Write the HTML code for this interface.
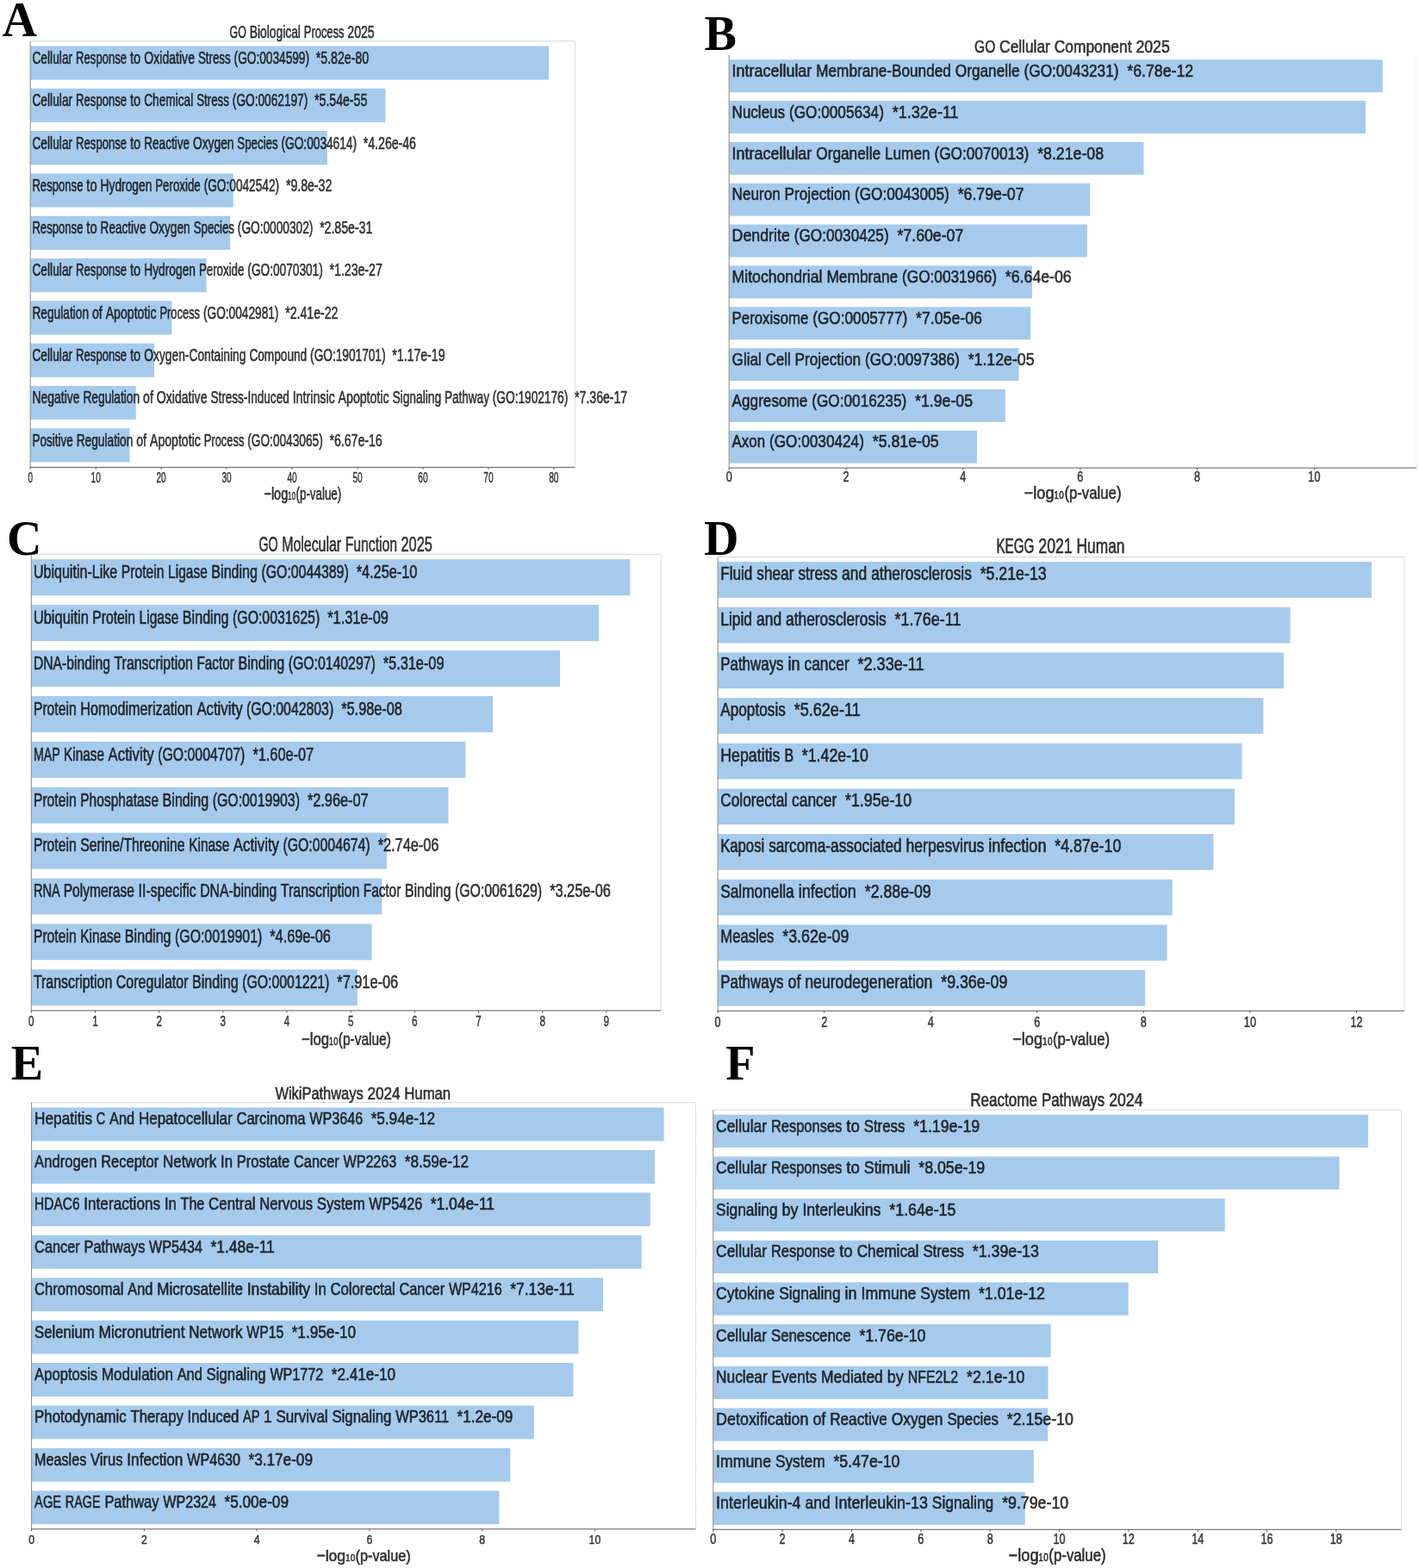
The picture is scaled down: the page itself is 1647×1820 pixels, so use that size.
<!DOCTYPE html>
<html lang="en">
<head>
<meta charset="utf-8">
<title>Enrichment analysis bar charts</title>
<style>
html,body{margin:0;padding:0;background:#fff;}
body{width:1647px;height:1820px;overflow:hidden;}
svg{display:block;}
text{white-space:pre;}
.t{font-family:"Liberation Sans",sans-serif;fill:#000;stroke:#000;stroke-width:0.65px;stroke-linejoin:round;opacity:0.82;}
.k{font-family:"Liberation Sans",sans-serif;fill:#000;stroke:#000;stroke-width:0.5px;stroke-linejoin:round;opacity:0.8;}
.L{font-family:"Liberation Serif",serif;font-weight:bold;font-size:56px;fill:#000;}
.bar{fill:#a6caec;}
.sp{fill:none;stroke-width:1;}
</style>
</head>
<body>
<svg width="1647" height="1820" viewBox="0 0 1647 1820">
<rect width="1647" height="1820" fill="#ffffff"/>
<g id="panel-a">
<rect class="bar" x="35.2" y="53.4" width="601.87" height="39.2"/>
<rect class="bar" x="35.2" y="102.71" width="412.13" height="39.2"/>
<rect class="bar" x="35.2" y="152.02" width="344.64" height="39.2"/>
<rect class="bar" x="35.2" y="201.33" width="235.54" height="39.2"/>
<rect class="bar" x="35.2" y="250.64" width="232.02" height="39.2"/>
<rect class="bar" x="35.2" y="299.95" width="204.41" height="39.2"/>
<rect class="bar" x="35.2" y="349.26" width="164.21" height="39.2"/>
<rect class="bar" x="35.2" y="398.57" width="143.81" height="39.2"/>
<rect class="bar" x="35.2" y="447.88" width="122.55" height="39.2"/>
<rect class="bar" x="35.2" y="497.19" width="115.28" height="39.2"/>
<path class="sp" stroke="#d4d4d4" d="M35.2 47.8H667.4"/>
<path class="sp" stroke="#dedede" d="M667.4 47.8V542.4"/>
<path class="sp" stroke="#8a8a8a" d="M35.2 47.8V542.4"/>
<path class="sp" stroke="#5a5a5a" stroke-width="1.2" d="M34.7 542.4H667.4"/>
<path class="sp" stroke="#5a5a5a" d="M35.2 542.4v2.6M111.16 542.4v2.6M187.12 542.4v2.6M263.08 542.4v2.6M339.04 542.4v2.6M415 542.4v2.6M490.96 542.4v2.6M566.92 542.4v2.6M642.88 542.4v2.6"/>
<text class="k" font-size="15.86"><tspan x="32.4" y="559.6" textLength="5.59" lengthAdjust="spacingAndGlyphs">0</tspan></text>
<text class="k" font-size="15.86"><tspan x="105.57" y="559.6" textLength="11.18" lengthAdjust="spacingAndGlyphs">10</tspan></text>
<text class="k" font-size="15.86"><tspan x="181.53" y="559.6" textLength="11.18" lengthAdjust="spacingAndGlyphs">20</tspan></text>
<text class="k" font-size="15.86"><tspan x="257.49" y="559.6" textLength="11.18" lengthAdjust="spacingAndGlyphs">30</tspan></text>
<text class="k" font-size="15.86"><tspan x="333.45" y="559.6" textLength="11.18" lengthAdjust="spacingAndGlyphs">40</tspan></text>
<text class="k" font-size="15.86"><tspan x="409.41" y="559.6" textLength="11.18" lengthAdjust="spacingAndGlyphs">50</tspan></text>
<text class="k" font-size="15.86"><tspan x="485.37" y="559.6" textLength="11.18" lengthAdjust="spacingAndGlyphs">60</tspan></text>
<text class="k" font-size="15.86"><tspan x="561.33" y="559.6" textLength="11.18" lengthAdjust="spacingAndGlyphs">70</tspan></text>
<text class="k" font-size="15.86"><tspan x="637.29" y="559.6" textLength="11.18" lengthAdjust="spacingAndGlyphs">80</tspan></text>
<text class="t" font-size="20.04"><tspan x="306.44" y="579.5" textLength="27.73" lengthAdjust="spacingAndGlyphs">−log</tspan><tspan x="334.16" y="577.67" font-size="20.84" textLength="9.41" lengthAdjust="spacingAndGlyphs">₁₀</tspan><tspan x="343.57" y="579.5" textLength="52.59" lengthAdjust="spacingAndGlyphs">(p-value)</tspan></text>
<text class="t" font-size="20.87"><tspan x="266.58" y="44" textLength="19.2" lengthAdjust="spacingAndGlyphs">GO</tspan> <tspan x="289.69" y="44" textLength="59.22" lengthAdjust="spacingAndGlyphs">Biological</tspan> <tspan x="352.81" y="44" textLength="46.62" lengthAdjust="spacingAndGlyphs">Process</tspan> <tspan x="403.34" y="44" textLength="31.28" lengthAdjust="spacingAndGlyphs">2025</tspan></text>
<text class="t" font-size="20.87"><tspan x="37.4" y="73.9" textLength="46.76" lengthAdjust="spacingAndGlyphs">Cellular</tspan> <tspan x="88.07" y="73.9" textLength="59.03" lengthAdjust="spacingAndGlyphs">Response</tspan> <tspan x="151" y="73.9" textLength="12.34" lengthAdjust="spacingAndGlyphs">to</tspan> <tspan x="167.24" y="73.9" textLength="58.76" lengthAdjust="spacingAndGlyphs">Oxidative</tspan> <tspan x="229.91" y="73.9" textLength="37.77" lengthAdjust="spacingAndGlyphs">Stress</tspan> <tspan x="271.59" y="73.9" textLength="87.45" lengthAdjust="spacingAndGlyphs">(GO:0034599)</tspan>  <tspan x="366.85" y="73.9" textLength="61.14" lengthAdjust="spacingAndGlyphs">*5.82e-80</tspan></text>
<text class="t" font-size="20.87"><tspan x="37.4" y="123.21" textLength="46.76" lengthAdjust="spacingAndGlyphs">Cellular</tspan> <tspan x="88.07" y="123.21" textLength="59.03" lengthAdjust="spacingAndGlyphs">Response</tspan> <tspan x="151" y="123.21" textLength="12.34" lengthAdjust="spacingAndGlyphs">to</tspan> <tspan x="167.24" y="123.21" textLength="57.02" lengthAdjust="spacingAndGlyphs">Chemical</tspan> <tspan x="228.17" y="123.21" textLength="37.77" lengthAdjust="spacingAndGlyphs">Stress</tspan> <tspan x="269.85" y="123.21" textLength="87.45" lengthAdjust="spacingAndGlyphs">(GO:0062197)</tspan>  <tspan x="365.11" y="123.21" textLength="61.14" lengthAdjust="spacingAndGlyphs">*5.54e-55</tspan></text>
<text class="t" font-size="20.87"><tspan x="37.4" y="172.52" textLength="46.76" lengthAdjust="spacingAndGlyphs">Cellular</tspan> <tspan x="88.07" y="172.52" textLength="59.03" lengthAdjust="spacingAndGlyphs">Response</tspan> <tspan x="151" y="172.52" textLength="12.34" lengthAdjust="spacingAndGlyphs">to</tspan> <tspan x="167.24" y="172.52" textLength="52.9" lengthAdjust="spacingAndGlyphs">Reactive</tspan> <tspan x="224.06" y="172.52" textLength="47.37" lengthAdjust="spacingAndGlyphs">Oxygen</tspan> <tspan x="275.33" y="172.52" textLength="47.3" lengthAdjust="spacingAndGlyphs">Species</tspan> <tspan x="326.54" y="172.52" textLength="87.45" lengthAdjust="spacingAndGlyphs">(GO:0034614)</tspan>  <tspan x="421.8" y="172.52" textLength="61.14" lengthAdjust="spacingAndGlyphs">*4.26e-46</tspan></text>
<text class="t" font-size="20.87"><tspan x="37.4" y="221.83" textLength="59.03" lengthAdjust="spacingAndGlyphs">Response</tspan> <tspan x="100.33" y="221.83" textLength="12.34" lengthAdjust="spacingAndGlyphs">to</tspan> <tspan x="116.58" y="221.83" textLength="59.77" lengthAdjust="spacingAndGlyphs">Hydrogen</tspan> <tspan x="180.25" y="221.83" textLength="52.51" lengthAdjust="spacingAndGlyphs">Peroxide</tspan> <tspan x="236.67" y="221.83" textLength="87.45" lengthAdjust="spacingAndGlyphs">(GO:0042542)</tspan>  <tspan x="331.93" y="221.83" textLength="53.32" lengthAdjust="spacingAndGlyphs">*9.8e-32</tspan></text>
<text class="t" font-size="20.87"><tspan x="37.4" y="271.14" textLength="59.03" lengthAdjust="spacingAndGlyphs">Response</tspan> <tspan x="100.33" y="271.14" textLength="12.34" lengthAdjust="spacingAndGlyphs">to</tspan> <tspan x="116.58" y="271.14" textLength="52.9" lengthAdjust="spacingAndGlyphs">Reactive</tspan> <tspan x="173.39" y="271.14" textLength="47.37" lengthAdjust="spacingAndGlyphs">Oxygen</tspan> <tspan x="224.67" y="271.14" textLength="47.3" lengthAdjust="spacingAndGlyphs">Species</tspan> <tspan x="275.87" y="271.14" textLength="87.45" lengthAdjust="spacingAndGlyphs">(GO:0000302)</tspan>  <tspan x="371.13" y="271.14" textLength="61.14" lengthAdjust="spacingAndGlyphs">*2.85e-31</tspan></text>
<text class="t" font-size="20.87"><tspan x="37.4" y="320.45" textLength="46.76" lengthAdjust="spacingAndGlyphs">Cellular</tspan> <tspan x="88.07" y="320.45" textLength="59.03" lengthAdjust="spacingAndGlyphs">Response</tspan> <tspan x="151" y="320.45" textLength="12.34" lengthAdjust="spacingAndGlyphs">to</tspan> <tspan x="167.24" y="320.45" textLength="59.77" lengthAdjust="spacingAndGlyphs">Hydrogen</tspan> <tspan x="230.92" y="320.45" textLength="52.51" lengthAdjust="spacingAndGlyphs">Peroxide</tspan> <tspan x="287.34" y="320.45" textLength="87.45" lengthAdjust="spacingAndGlyphs">(GO:0070301)</tspan>  <tspan x="382.6" y="320.45" textLength="61.14" lengthAdjust="spacingAndGlyphs">*1.23e-27</tspan></text>
<text class="t" font-size="20.87"><tspan x="37.4" y="369.76" textLength="65.63" lengthAdjust="spacingAndGlyphs">Regulation</tspan> <tspan x="106.93" y="369.76" textLength="11.85" lengthAdjust="spacingAndGlyphs">of</tspan> <tspan x="122.69" y="369.76" textLength="58.86" lengthAdjust="spacingAndGlyphs">Apoptotic</tspan> <tspan x="185.45" y="369.76" textLength="46.62" lengthAdjust="spacingAndGlyphs">Process</tspan> <tspan x="235.98" y="369.76" textLength="87.45" lengthAdjust="spacingAndGlyphs">(GO:0042981)</tspan>  <tspan x="331.24" y="369.76" textLength="61.14" lengthAdjust="spacingAndGlyphs">*2.41e-22</tspan></text>
<text class="t" font-size="20.87"><tspan x="37.4" y="419.07" textLength="46.76" lengthAdjust="spacingAndGlyphs">Cellular</tspan> <tspan x="88.07" y="419.07" textLength="59.03" lengthAdjust="spacingAndGlyphs">Response</tspan> <tspan x="151" y="419.07" textLength="12.34" lengthAdjust="spacingAndGlyphs">to</tspan> <tspan x="167.24" y="419.07" textLength="118.26" lengthAdjust="spacingAndGlyphs">Oxygen-Containing</tspan> <tspan x="289.41" y="419.07" textLength="66.77" lengthAdjust="spacingAndGlyphs">Compound</tspan> <tspan x="360.09" y="419.07" textLength="87.45" lengthAdjust="spacingAndGlyphs">(GO:1901701)</tspan>  <tspan x="455.35" y="419.07" textLength="61.14" lengthAdjust="spacingAndGlyphs">*1.17e-19</tspan></text>
<text class="t" font-size="20.87"><tspan x="37.4" y="468.38" textLength="55.16" lengthAdjust="spacingAndGlyphs">Negative</tspan> <tspan x="96.46" y="468.38" textLength="65.63" lengthAdjust="spacingAndGlyphs">Regulation</tspan> <tspan x="166" y="468.38" textLength="11.85" lengthAdjust="spacingAndGlyphs">of</tspan> <tspan x="181.75" y="468.38" textLength="58.76" lengthAdjust="spacingAndGlyphs">Oxidative</tspan> <tspan x="244.42" y="468.38" textLength="91.33" lengthAdjust="spacingAndGlyphs">Stress-Induced</tspan> <tspan x="339.65" y="468.38" textLength="49.06" lengthAdjust="spacingAndGlyphs">Intrinsic</tspan> <tspan x="392.62" y="468.38" textLength="58.86" lengthAdjust="spacingAndGlyphs">Apoptotic</tspan> <tspan x="455.39" y="468.38" textLength="56.76" lengthAdjust="spacingAndGlyphs">Signaling</tspan> <tspan x="516.05" y="468.38" textLength="51.85" lengthAdjust="spacingAndGlyphs">Pathway</tspan> <tspan x="571.81" y="468.38" textLength="87.45" lengthAdjust="spacingAndGlyphs">(GO:1902176)</tspan>  <tspan x="667.07" y="468.38" textLength="61.14" lengthAdjust="spacingAndGlyphs">*7.36e-17</tspan></text>
<text class="t" font-size="20.87"><tspan x="37.4" y="517.69" textLength="47.38" lengthAdjust="spacingAndGlyphs">Positive</tspan> <tspan x="88.68" y="517.69" textLength="65.63" lengthAdjust="spacingAndGlyphs">Regulation</tspan> <tspan x="158.22" y="517.69" textLength="11.85" lengthAdjust="spacingAndGlyphs">of</tspan> <tspan x="173.97" y="517.69" textLength="58.86" lengthAdjust="spacingAndGlyphs">Apoptotic</tspan> <tspan x="236.73" y="517.69" textLength="46.62" lengthAdjust="spacingAndGlyphs">Process</tspan> <tspan x="287.26" y="517.69" textLength="87.45" lengthAdjust="spacingAndGlyphs">(GO:0043065)</tspan>  <tspan x="382.52" y="517.69" textLength="61.14" lengthAdjust="spacingAndGlyphs">*6.67e-16</tspan></text>
<text class="L" x="2.4" y="41.9">A</text>
</g>
<g id="panel-b">
<rect class="bar" x="846.2" y="69.2" width="758.58" height="37.9"/>
<rect class="bar" x="846.2" y="117.04" width="738.93" height="37.9"/>
<rect class="bar" x="846.2" y="164.88" width="481.26" height="37.9"/>
<rect class="bar" x="846.2" y="212.72" width="418.94" height="37.9"/>
<rect class="bar" x="846.2" y="260.56" width="415.62" height="37.9"/>
<rect class="bar" x="846.2" y="308.4" width="351.68" height="37.9"/>
<rect class="bar" x="846.2" y="356.24" width="349.91" height="37.9"/>
<rect class="bar" x="846.2" y="404.08" width="336.26" height="37.9"/>
<rect class="bar" x="846.2" y="451.92" width="320.67" height="37.9"/>
<rect class="bar" x="846.2" y="499.76" width="287.7" height="37.9"/>
<path class="sp" stroke="#ffffff" d="M846.2 64.1H1644"/>
<path class="sp" stroke="#ececec" d="M1644 64.1V543.1"/>
<path class="sp" stroke="#8a8a8a" d="M846.2 64.1V543.1"/>
<path class="sp" stroke="#5a5a5a" stroke-width="1.2" d="M845.7 543.1H1644"/>
<path class="sp" stroke="#5a5a5a" d="M846.2 543.1v2.6M982.04 543.1v2.6M1117.88 543.1v2.6M1253.72 543.1v2.6M1389.56 543.1v2.6M1525.4 543.1v2.6"/>
<text class="k" font-size="16.03"><tspan x="842.69" y="559.1" textLength="7.03" lengthAdjust="spacingAndGlyphs">0</tspan></text>
<text class="k" font-size="16.03"><tspan x="978.53" y="559.1" textLength="7.03" lengthAdjust="spacingAndGlyphs">2</tspan></text>
<text class="k" font-size="16.03"><tspan x="1114.37" y="559.1" textLength="7.03" lengthAdjust="spacingAndGlyphs">4</tspan></text>
<text class="k" font-size="16.03"><tspan x="1250.21" y="559.1" textLength="7.03" lengthAdjust="spacingAndGlyphs">6</tspan></text>
<text class="k" font-size="16.03"><tspan x="1386.05" y="559.1" textLength="7.03" lengthAdjust="spacingAndGlyphs">8</tspan></text>
<text class="k" font-size="16.03"><tspan x="1518.37" y="559.1" textLength="14.06" lengthAdjust="spacingAndGlyphs">10</tspan></text>
<text class="t" font-size="20.24"><tspan x="1188.7" y="579" textLength="34.86" lengthAdjust="spacingAndGlyphs">−log</tspan><tspan x="1223.56" y="577.15" font-size="21.05" textLength="11.83" lengthAdjust="spacingAndGlyphs">₁₀</tspan><tspan x="1235.39" y="579" textLength="66.11" lengthAdjust="spacingAndGlyphs">(p-value)</tspan></text>
<text class="t" font-size="21.09"><tspan x="1131.07" y="60.7" textLength="24.13" lengthAdjust="spacingAndGlyphs">GO</tspan> <tspan x="1160.11" y="60.7" textLength="58.78" lengthAdjust="spacingAndGlyphs">Cellular</tspan> <tspan x="1223.8" y="60.7" textLength="89.7" lengthAdjust="spacingAndGlyphs">Component</tspan> <tspan x="1318.41" y="60.7" textLength="39.32" lengthAdjust="spacingAndGlyphs">2025</tspan></text>
<text class="t" font-size="21.09"><tspan x="849.6" y="88.9" textLength="92.72" lengthAdjust="spacingAndGlyphs">Intracellular</tspan> <tspan x="947.23" y="88.9" textLength="156.59" lengthAdjust="spacingAndGlyphs">Membrane-Bounded</tspan> <tspan x="1108.73" y="88.9" textLength="74.9" lengthAdjust="spacingAndGlyphs">Organelle</tspan> <tspan x="1188.54" y="88.9" textLength="109.93" lengthAdjust="spacingAndGlyphs">(GO:0043231)</tspan>  <tspan x="1308.3" y="88.9" textLength="76.87" lengthAdjust="spacingAndGlyphs">*6.78e-12</tspan></text>
<text class="t" font-size="21.09"><tspan x="849.6" y="136.74" textLength="61.48" lengthAdjust="spacingAndGlyphs">Nucleus</tspan> <tspan x="915.99" y="136.74" textLength="109.93" lengthAdjust="spacingAndGlyphs">(GO:0005634)</tspan>  <tspan x="1035.75" y="136.74" textLength="76.87" lengthAdjust="spacingAndGlyphs">*1.32e-11</tspan></text>
<text class="t" font-size="21.09"><tspan x="849.6" y="184.58" textLength="92.72" lengthAdjust="spacingAndGlyphs">Intracellular</tspan> <tspan x="947.23" y="184.58" textLength="74.9" lengthAdjust="spacingAndGlyphs">Organelle</tspan> <tspan x="1027.04" y="184.58" textLength="52.48" lengthAdjust="spacingAndGlyphs">Lumen</tspan> <tspan x="1084.43" y="184.58" textLength="109.93" lengthAdjust="spacingAndGlyphs">(GO:0070013)</tspan>  <tspan x="1204.18" y="184.58" textLength="76.87" lengthAdjust="spacingAndGlyphs">*8.21e-08</tspan></text>
<text class="t" font-size="21.09"><tspan x="849.6" y="232.42" textLength="56.11" lengthAdjust="spacingAndGlyphs">Neuron</tspan> <tspan x="910.62" y="232.42" textLength="76.4" lengthAdjust="spacingAndGlyphs">Projection</tspan> <tspan x="991.93" y="232.42" textLength="109.93" lengthAdjust="spacingAndGlyphs">(GO:0043005)</tspan>  <tspan x="1111.69" y="232.42" textLength="76.87" lengthAdjust="spacingAndGlyphs">*6.79e-07</tspan></text>
<text class="t" font-size="21.09"><tspan x="849.6" y="280.26" textLength="67.21" lengthAdjust="spacingAndGlyphs">Dendrite</tspan> <tspan x="921.72" y="280.26" textLength="109.93" lengthAdjust="spacingAndGlyphs">(GO:0030425)</tspan>  <tspan x="1041.47" y="280.26" textLength="76.87" lengthAdjust="spacingAndGlyphs">*7.60e-07</tspan></text>
<text class="t" font-size="21.09"><tspan x="849.6" y="328.1" textLength="104.88" lengthAdjust="spacingAndGlyphs">Mitochondrial</tspan> <tspan x="959.39" y="328.1" textLength="82.81" lengthAdjust="spacingAndGlyphs">Membrane</tspan> <tspan x="1047.11" y="328.1" textLength="109.93" lengthAdjust="spacingAndGlyphs">(GO:0031966)</tspan>  <tspan x="1166.86" y="328.1" textLength="76.87" lengthAdjust="spacingAndGlyphs">*6.64e-06</tspan></text>
<text class="t" font-size="21.09"><tspan x="849.6" y="375.94" textLength="88.75" lengthAdjust="spacingAndGlyphs">Peroxisome</tspan> <tspan x="943.27" y="375.94" textLength="109.93" lengthAdjust="spacingAndGlyphs">(GO:0005777)</tspan>  <tspan x="1063.02" y="375.94" textLength="76.87" lengthAdjust="spacingAndGlyphs">*7.05e-06</tspan></text>
<text class="t" font-size="21.09"><tspan x="849.6" y="423.78" textLength="34.32" lengthAdjust="spacingAndGlyphs">Glial</tspan> <tspan x="888.83" y="423.78" textLength="28.88" lengthAdjust="spacingAndGlyphs">Cell</tspan> <tspan x="922.62" y="423.78" textLength="76.4" lengthAdjust="spacingAndGlyphs">Projection</tspan> <tspan x="1003.93" y="423.78" textLength="109.93" lengthAdjust="spacingAndGlyphs">(GO:0097386)</tspan>  <tspan x="1123.68" y="423.78" textLength="76.87" lengthAdjust="spacingAndGlyphs">*1.12e-05</tspan></text>
<text class="t" font-size="21.09"><tspan x="849.6" y="471.62" textLength="87.76" lengthAdjust="spacingAndGlyphs">Aggresome</tspan> <tspan x="942.27" y="471.62" textLength="109.93" lengthAdjust="spacingAndGlyphs">(GO:0016235)</tspan>  <tspan x="1062.02" y="471.62" textLength="67.04" lengthAdjust="spacingAndGlyphs">*1.9e-05</tspan></text>
<text class="t" font-size="21.09"><tspan x="849.6" y="519.46" textLength="38.48" lengthAdjust="spacingAndGlyphs">Axon</tspan> <tspan x="892.99" y="519.46" textLength="109.93" lengthAdjust="spacingAndGlyphs">(GO:0030424)</tspan>  <tspan x="1012.75" y="519.46" textLength="76.87" lengthAdjust="spacingAndGlyphs">*5.81e-05</tspan></text>
<text class="L" x="817.5" y="57.6">B</text>
</g>
<g id="panel-c">
<rect class="bar" x="36.3" y="649.2" width="695.09" height="42"/>
<rect class="bar" x="36.3" y="702.1" width="658.83" height="42"/>
<rect class="bar" x="36.3" y="755" width="613.75" height="42"/>
<rect class="bar" x="36.3" y="807.9" width="535.75" height="42"/>
<rect class="bar" x="36.3" y="860.8" width="504.05" height="42"/>
<rect class="bar" x="36.3" y="913.7" width="484.23" height="42"/>
<rect class="bar" x="36.3" y="966.6" width="412.55" height="42"/>
<rect class="bar" x="36.3" y="1019.5" width="407.05" height="42"/>
<rect class="bar" x="36.3" y="1072.4" width="395.24" height="42"/>
<rect class="bar" x="36.3" y="1125.3" width="378.4" height="42"/>
<path class="sp" stroke="#d4d4d4" d="M36.3 643.3H767.3"/>
<path class="sp" stroke="#dedede" d="M767.3 643.3V1173"/>
<path class="sp" stroke="#8a8a8a" d="M36.3 643.3V1173"/>
<path class="sp" stroke="#5a5a5a" stroke-width="1.2" d="M35.8 1173H767.3"/>
<path class="sp" stroke="#5a5a5a" d="M36.3 1173v2.6M110.47 1173v2.6M184.64 1173v2.6M258.81 1173v2.6M332.98 1173v2.6M407.15 1173v2.6M481.32 1173v2.6M555.49 1173v2.6M629.66 1173v2.6M703.83 1173v2.6"/>
<text class="k" font-size="16.43"><tspan x="33.07" y="1191.2" textLength="6.46" lengthAdjust="spacingAndGlyphs">0</tspan></text>
<text class="k" font-size="16.43"><tspan x="107.24" y="1191.2" textLength="6.46" lengthAdjust="spacingAndGlyphs">1</tspan></text>
<text class="k" font-size="16.43"><tspan x="181.41" y="1191.2" textLength="6.46" lengthAdjust="spacingAndGlyphs">2</tspan></text>
<text class="k" font-size="16.43"><tspan x="255.58" y="1191.2" textLength="6.46" lengthAdjust="spacingAndGlyphs">3</tspan></text>
<text class="k" font-size="16.43"><tspan x="329.75" y="1191.2" textLength="6.46" lengthAdjust="spacingAndGlyphs">4</tspan></text>
<text class="k" font-size="16.43"><tspan x="403.92" y="1191.2" textLength="6.46" lengthAdjust="spacingAndGlyphs">5</tspan></text>
<text class="k" font-size="16.43"><tspan x="478.09" y="1191.2" textLength="6.46" lengthAdjust="spacingAndGlyphs">6</tspan></text>
<text class="k" font-size="16.43"><tspan x="552.26" y="1191.2" textLength="6.46" lengthAdjust="spacingAndGlyphs">7</tspan></text>
<text class="k" font-size="16.43"><tspan x="626.43" y="1191.2" textLength="6.46" lengthAdjust="spacingAndGlyphs">8</tspan></text>
<text class="k" font-size="16.43"><tspan x="700.6" y="1191.2" textLength="6.46" lengthAdjust="spacingAndGlyphs">9</tspan></text>
<text class="t" font-size="20.75"><tspan x="349.93" y="1213.2" textLength="32.06" lengthAdjust="spacingAndGlyphs">−log</tspan><tspan x="381.99" y="1211.3" font-size="21.58" textLength="10.88" lengthAdjust="spacingAndGlyphs">₁₀</tspan><tspan x="392.87" y="1213.2" textLength="60.8" lengthAdjust="spacingAndGlyphs">(p-value)</tspan></text>
<text class="t" font-size="23.34"><tspan x="300.44" y="639.8" textLength="22.2" lengthAdjust="spacingAndGlyphs">GO</tspan> <tspan x="327.16" y="639.8" textLength="68.96" lengthAdjust="spacingAndGlyphs">Molecular</tspan> <tspan x="400.63" y="639.8" textLength="60.44" lengthAdjust="spacingAndGlyphs">Function</tspan> <tspan x="465.59" y="639.8" textLength="36.16" lengthAdjust="spacingAndGlyphs">2025</tspan></text>
<text class="t" font-size="21.62"><tspan x="38.9" y="671" textLength="97.33" lengthAdjust="spacingAndGlyphs">Ubiquitin-Like</tspan> <tspan x="140.74" y="671" textLength="49.81" lengthAdjust="spacingAndGlyphs">Protein</tspan> <tspan x="195.07" y="671" textLength="45.74" lengthAdjust="spacingAndGlyphs">Ligase</tspan> <tspan x="245.33" y="671" textLength="53.7" lengthAdjust="spacingAndGlyphs">Binding</tspan> <tspan x="303.54" y="671" textLength="101.11" lengthAdjust="spacingAndGlyphs">(GO:0044389)</tspan>  <tspan x="413.68" y="671" textLength="70.7" lengthAdjust="spacingAndGlyphs">*4.25e-10</tspan></text>
<text class="t" font-size="21.62"><tspan x="38.9" y="723.9" textLength="63.87" lengthAdjust="spacingAndGlyphs">Ubiquitin</tspan> <tspan x="107.29" y="723.9" textLength="49.81" lengthAdjust="spacingAndGlyphs">Protein</tspan> <tspan x="161.61" y="723.9" textLength="45.74" lengthAdjust="spacingAndGlyphs">Ligase</tspan> <tspan x="211.87" y="723.9" textLength="53.7" lengthAdjust="spacingAndGlyphs">Binding</tspan> <tspan x="270.08" y="723.9" textLength="101.11" lengthAdjust="spacingAndGlyphs">(GO:0031625)</tspan>  <tspan x="380.23" y="723.9" textLength="70.7" lengthAdjust="spacingAndGlyphs">*1.31e-09</tspan></text>
<text class="t" font-size="21.62"><tspan x="38.9" y="776.8" textLength="89.08" lengthAdjust="spacingAndGlyphs">DNA-binding</tspan> <tspan x="132.49" y="776.8" textLength="91.39" lengthAdjust="spacingAndGlyphs">Transcription</tspan> <tspan x="228.4" y="776.8" textLength="43.5" lengthAdjust="spacingAndGlyphs">Factor</tspan> <tspan x="276.42" y="776.8" textLength="53.7" lengthAdjust="spacingAndGlyphs">Binding</tspan> <tspan x="334.63" y="776.8" textLength="101.11" lengthAdjust="spacingAndGlyphs">(GO:0140297)</tspan>  <tspan x="444.78" y="776.8" textLength="70.7" lengthAdjust="spacingAndGlyphs">*5.31e-09</tspan></text>
<text class="t" font-size="21.62"><tspan x="38.9" y="829.7" textLength="49.81" lengthAdjust="spacingAndGlyphs">Protein</tspan> <tspan x="93.23" y="829.7" textLength="130.64" lengthAdjust="spacingAndGlyphs">Homodimerization</tspan> <tspan x="228.39" y="829.7" textLength="53.14" lengthAdjust="spacingAndGlyphs">Activity</tspan> <tspan x="286.05" y="829.7" textLength="101.11" lengthAdjust="spacingAndGlyphs">(GO:0042803)</tspan>  <tspan x="396.19" y="829.7" textLength="70.7" lengthAdjust="spacingAndGlyphs">*5.98e-08</tspan></text>
<text class="t" font-size="21.62"><tspan x="38.9" y="882.6" textLength="30.55" lengthAdjust="spacingAndGlyphs">MAP</tspan> <tspan x="73.97" y="882.6" textLength="47.13" lengthAdjust="spacingAndGlyphs">Kinase</tspan> <tspan x="125.61" y="882.6" textLength="53.14" lengthAdjust="spacingAndGlyphs">Activity</tspan> <tspan x="183.27" y="882.6" textLength="101.11" lengthAdjust="spacingAndGlyphs">(GO:0004707)</tspan>  <tspan x="293.41" y="882.6" textLength="70.7" lengthAdjust="spacingAndGlyphs">*1.60e-07</tspan></text>
<text class="t" font-size="21.62"><tspan x="38.9" y="935.5" textLength="49.81" lengthAdjust="spacingAndGlyphs">Protein</tspan> <tspan x="93.23" y="935.5" textLength="90.83" lengthAdjust="spacingAndGlyphs">Phosphatase</tspan> <tspan x="188.58" y="935.5" textLength="53.7" lengthAdjust="spacingAndGlyphs">Binding</tspan> <tspan x="246.79" y="935.5" textLength="101.11" lengthAdjust="spacingAndGlyphs">(GO:0019903)</tspan>  <tspan x="356.93" y="935.5" textLength="70.7" lengthAdjust="spacingAndGlyphs">*2.96e-07</tspan></text>
<text class="t" font-size="21.62"><tspan x="38.9" y="988.4" textLength="49.81" lengthAdjust="spacingAndGlyphs">Protein</tspan> <tspan x="93.23" y="988.4" textLength="121.44" lengthAdjust="spacingAndGlyphs">Serine/Threonine</tspan> <tspan x="219.19" y="988.4" textLength="47.13" lengthAdjust="spacingAndGlyphs">Kinase</tspan> <tspan x="270.83" y="988.4" textLength="53.14" lengthAdjust="spacingAndGlyphs">Activity</tspan> <tspan x="328.49" y="988.4" textLength="101.11" lengthAdjust="spacingAndGlyphs">(GO:0004674)</tspan>  <tspan x="438.63" y="988.4" textLength="70.7" lengthAdjust="spacingAndGlyphs">*2.74e-06</tspan></text>
<text class="t" font-size="21.62"><tspan x="38.9" y="1041.3" textLength="30.22" lengthAdjust="spacingAndGlyphs">RNA</tspan> <tspan x="73.64" y="1041.3" textLength="82.39" lengthAdjust="spacingAndGlyphs">Polymerase</tspan> <tspan x="160.55" y="1041.3" textLength="67.2" lengthAdjust="spacingAndGlyphs">II-specific</tspan> <tspan x="232.27" y="1041.3" textLength="89.08" lengthAdjust="spacingAndGlyphs">DNA-binding</tspan> <tspan x="325.86" y="1041.3" textLength="91.39" lengthAdjust="spacingAndGlyphs">Transcription</tspan> <tspan x="421.77" y="1041.3" textLength="43.5" lengthAdjust="spacingAndGlyphs">Factor</tspan> <tspan x="469.79" y="1041.3" textLength="53.7" lengthAdjust="spacingAndGlyphs">Binding</tspan> <tspan x="528" y="1041.3" textLength="101.11" lengthAdjust="spacingAndGlyphs">(GO:0061629)</tspan>  <tspan x="638.14" y="1041.3" textLength="70.7" lengthAdjust="spacingAndGlyphs">*3.25e-06</tspan></text>
<text class="t" font-size="21.62"><tspan x="38.9" y="1094.2" textLength="49.81" lengthAdjust="spacingAndGlyphs">Protein</tspan> <tspan x="93.23" y="1094.2" textLength="47.13" lengthAdjust="spacingAndGlyphs">Kinase</tspan> <tspan x="144.87" y="1094.2" textLength="53.7" lengthAdjust="spacingAndGlyphs">Binding</tspan> <tspan x="203.09" y="1094.2" textLength="101.11" lengthAdjust="spacingAndGlyphs">(GO:0019901)</tspan>  <tspan x="313.23" y="1094.2" textLength="70.7" lengthAdjust="spacingAndGlyphs">*4.69e-06</tspan></text>
<text class="t" font-size="21.62"><tspan x="38.9" y="1147.1" textLength="91.39" lengthAdjust="spacingAndGlyphs">Transcription</tspan> <tspan x="134.81" y="1147.1" textLength="83.68" lengthAdjust="spacingAndGlyphs">Coregulator</tspan> <tspan x="223.01" y="1147.1" textLength="53.7" lengthAdjust="spacingAndGlyphs">Binding</tspan> <tspan x="281.22" y="1147.1" textLength="101.11" lengthAdjust="spacingAndGlyphs">(GO:0001221)</tspan>  <tspan x="391.36" y="1147.1" textLength="70.7" lengthAdjust="spacingAndGlyphs">*7.91e-06</tspan></text>
<text class="L" x="7.9" y="644">C</text>
</g>
<g id="panel-d">
<rect class="bar" x="833.1" y="652.1" width="758.85" height="41.7"/>
<rect class="bar" x="833.1" y="704.76" width="664.41" height="41.7"/>
<rect class="bar" x="833.1" y="757.42" width="656.88" height="41.7"/>
<rect class="bar" x="833.1" y="810.08" width="633.26" height="41.7"/>
<rect class="bar" x="833.1" y="862.74" width="608.39" height="41.7"/>
<rect class="bar" x="833.1" y="915.4" width="599.88" height="41.7"/>
<rect class="bar" x="833.1" y="968.06" width="575.32" height="41.7"/>
<rect class="bar" x="833.1" y="1020.72" width="527.64" height="41.7"/>
<rect class="bar" x="833.1" y="1073.38" width="521.5" height="41.7"/>
<rect class="bar" x="833.1" y="1126.04" width="496.01" height="41.7"/>
<path class="sp" stroke="#d4d4d4" d="M833.1 646.5H1630.2"/>
<path class="sp" stroke="#dedede" d="M1630.2 646.5V1173.3"/>
<path class="sp" stroke="#8a8a8a" d="M833.1 646.5V1173.3"/>
<path class="sp" stroke="#5a5a5a" stroke-width="1.2" d="M832.6 1173.3H1630.2"/>
<path class="sp" stroke="#5a5a5a" d="M833.1 1173.3v2.6M956.66 1173.3v2.6M1080.22 1173.3v2.6M1203.78 1173.3v2.6M1327.34 1173.3v2.6M1450.9 1173.3v2.6M1574.46 1173.3v2.6"/>
<text class="k" font-size="16.59"><tspan x="829.58" y="1192" textLength="7.04" lengthAdjust="spacingAndGlyphs">0</tspan></text>
<text class="k" font-size="16.59"><tspan x="953.14" y="1192" textLength="7.04" lengthAdjust="spacingAndGlyphs">2</tspan></text>
<text class="k" font-size="16.59"><tspan x="1076.7" y="1192" textLength="7.04" lengthAdjust="spacingAndGlyphs">4</tspan></text>
<text class="k" font-size="16.59"><tspan x="1200.26" y="1192" textLength="7.04" lengthAdjust="spacingAndGlyphs">6</tspan></text>
<text class="k" font-size="16.59"><tspan x="1323.82" y="1192" textLength="7.04" lengthAdjust="spacingAndGlyphs">8</tspan></text>
<text class="k" font-size="16.59"><tspan x="1443.86" y="1192" textLength="14.08" lengthAdjust="spacingAndGlyphs">10</tspan></text>
<text class="k" font-size="16.59"><tspan x="1567.42" y="1192" textLength="14.08" lengthAdjust="spacingAndGlyphs">12</tspan></text>
<text class="t" font-size="20.95"><tspan x="1175.16" y="1213.2" textLength="34.91" lengthAdjust="spacingAndGlyphs">−log</tspan><tspan x="1210.07" y="1211.28" font-size="21.79" textLength="11.85" lengthAdjust="spacingAndGlyphs">₁₀</tspan><tspan x="1221.92" y="1213.2" textLength="66.22" lengthAdjust="spacingAndGlyphs">(p-value)</tspan></text>
<text class="t" font-size="23.14"><tspan x="1156.48" y="641.9" textLength="43.91" lengthAdjust="spacingAndGlyphs">KEGG</tspan> <tspan x="1205.31" y="641.9" textLength="39.38" lengthAdjust="spacingAndGlyphs">2021</tspan> <tspan x="1249.61" y="641.9" textLength="55.81" lengthAdjust="spacingAndGlyphs">Human</tspan></text>
<text class="t" font-size="21.83"><tspan x="836.2" y="673.1" textLength="37.13" lengthAdjust="spacingAndGlyphs">Fluid</tspan> <tspan x="878.25" y="673.1" textLength="43.24" lengthAdjust="spacingAndGlyphs">shear</tspan> <tspan x="926.41" y="673.1" textLength="45.8" lengthAdjust="spacingAndGlyphs">stress</tspan> <tspan x="977.12" y="673.1" textLength="29.11" lengthAdjust="spacingAndGlyphs">and</tspan> <tspan x="1011.16" y="673.1" textLength="116.68" lengthAdjust="spacingAndGlyphs">atherosclerosis</tspan>  <tspan x="1137.67" y="673.1" textLength="76.99" lengthAdjust="spacingAndGlyphs">*5.21e-13</tspan></text>
<text class="t" font-size="21.83"><tspan x="836.2" y="725.76" textLength="36.87" lengthAdjust="spacingAndGlyphs">Lipid</tspan> <tspan x="877.99" y="725.76" textLength="29.11" lengthAdjust="spacingAndGlyphs">and</tspan> <tspan x="912.02" y="725.76" textLength="116.68" lengthAdjust="spacingAndGlyphs">atherosclerosis</tspan>  <tspan x="1038.53" y="725.76" textLength="76.99" lengthAdjust="spacingAndGlyphs">*1.76e-11</tspan></text>
<text class="t" font-size="21.83"><tspan x="836.2" y="778.42" textLength="73.36" lengthAdjust="spacingAndGlyphs">Pathways</tspan> <tspan x="914.47" y="778.42" textLength="14.11" lengthAdjust="spacingAndGlyphs">in</tspan> <tspan x="933.5" y="778.42" textLength="52.19" lengthAdjust="spacingAndGlyphs">cancer</tspan>  <tspan x="995.53" y="778.42" textLength="76.99" lengthAdjust="spacingAndGlyphs">*2.33e-11</tspan></text>
<text class="t" font-size="21.83"><tspan x="836.2" y="831.08" textLength="75.66" lengthAdjust="spacingAndGlyphs">Apoptosis</tspan>  <tspan x="921.7" y="831.08" textLength="76.99" lengthAdjust="spacingAndGlyphs">*5.62e-11</tspan></text>
<text class="t" font-size="21.83"><tspan x="836.2" y="883.74" textLength="69.26" lengthAdjust="spacingAndGlyphs">Hepatitis</tspan> <tspan x="910.38" y="883.74" textLength="10.62" lengthAdjust="spacingAndGlyphs">B</tspan>  <tspan x="930.83" y="883.74" textLength="76.99" lengthAdjust="spacingAndGlyphs">*1.42e-10</tspan></text>
<text class="t" font-size="21.83"><tspan x="836.2" y="936.4" textLength="77.94" lengthAdjust="spacingAndGlyphs">Colorectal</tspan> <tspan x="919.06" y="936.4" textLength="52.19" lengthAdjust="spacingAndGlyphs">cancer</tspan>  <tspan x="981.09" y="936.4" textLength="76.99" lengthAdjust="spacingAndGlyphs">*1.95e-10</tspan></text>
<text class="t" font-size="21.83"><tspan x="836.2" y="989.06" textLength="51.01" lengthAdjust="spacingAndGlyphs">Kaposi</tspan> <tspan x="892.13" y="989.06" textLength="154.46" lengthAdjust="spacingAndGlyphs">sarcoma-associated</tspan> <tspan x="1051.51" y="989.06" textLength="90.79" lengthAdjust="spacingAndGlyphs">herpesvirus</tspan> <tspan x="1147.22" y="989.06" textLength="67.23" lengthAdjust="spacingAndGlyphs">infection</tspan>  <tspan x="1224.29" y="989.06" textLength="76.99" lengthAdjust="spacingAndGlyphs">*4.87e-10</tspan></text>
<text class="t" font-size="21.83"><tspan x="836.2" y="1041.72" textLength="85.56" lengthAdjust="spacingAndGlyphs">Salmonella</tspan> <tspan x="926.68" y="1041.72" textLength="67.23" lengthAdjust="spacingAndGlyphs">infection</tspan>  <tspan x="1003.74" y="1041.72" textLength="76.99" lengthAdjust="spacingAndGlyphs">*2.88e-09</tspan></text>
<text class="t" font-size="21.83"><tspan x="836.2" y="1094.38" textLength="62.3" lengthAdjust="spacingAndGlyphs">Measles</tspan>  <tspan x="908.34" y="1094.38" textLength="76.99" lengthAdjust="spacingAndGlyphs">*3.62e-09</tspan></text>
<text class="t" font-size="21.83"><tspan x="836.2" y="1147.04" textLength="73.36" lengthAdjust="spacingAndGlyphs">Pathways</tspan> <tspan x="914.47" y="1147.04" textLength="14.92" lengthAdjust="spacingAndGlyphs">of</tspan> <tspan x="934.31" y="1147.04" textLength="148.13" lengthAdjust="spacingAndGlyphs">neurodegeneration</tspan>  <tspan x="1092.28" y="1147.04" textLength="76.99" lengthAdjust="spacingAndGlyphs">*9.36e-09</tspan></text>
<text class="L" x="817" y="643.6">D</text>
</g>
<g id="panel-e">
<rect class="bar" x="36.6" y="1285.5" width="733.97" height="38.9"/>
<rect class="bar" x="36.6" y="1334.92" width="723.5" height="38.9"/>
<rect class="bar" x="36.6" y="1384.34" width="718.07" height="38.9"/>
<rect class="bar" x="36.6" y="1433.76" width="708.05" height="38.9"/>
<rect class="bar" x="36.6" y="1483.18" width="663.41" height="38.9"/>
<rect class="bar" x="36.6" y="1532.6" width="634.84" height="38.9"/>
<rect class="bar" x="36.6" y="1582.02" width="628.82" height="38.9"/>
<rect class="bar" x="36.6" y="1631.44" width="583.24" height="38.9"/>
<rect class="bar" x="36.6" y="1680.86" width="555.66" height="38.9"/>
<rect class="bar" x="36.6" y="1730.28" width="542.72" height="38.9"/>
<path class="sp" stroke="#d4d4d4" d="M36.6 1279.6H807.4"/>
<path class="sp" stroke="#dedede" d="M807.4 1279.6V1774.8"/>
<path class="sp" stroke="#8a8a8a" d="M36.6 1279.6V1774.8"/>
<path class="sp" stroke="#5a5a5a" stroke-width="1.2" d="M36.1 1774.8H807.4"/>
<path class="sp" stroke="#5a5a5a" d="M36.6 1774.8v2.6M167.36 1774.8v2.6M298.12 1774.8v2.6M428.88 1774.8v2.6M559.64 1774.8v2.6M690.4 1774.8v2.6"/>
<text class="k" font-size="15.22"><tspan x="33.2" y="1791.6" textLength="6.8" lengthAdjust="spacingAndGlyphs">0</tspan></text>
<text class="k" font-size="15.22"><tspan x="163.96" y="1791.6" textLength="6.8" lengthAdjust="spacingAndGlyphs">2</tspan></text>
<text class="k" font-size="15.22"><tspan x="294.72" y="1791.6" textLength="6.8" lengthAdjust="spacingAndGlyphs">4</tspan></text>
<text class="k" font-size="15.22"><tspan x="425.48" y="1791.6" textLength="6.8" lengthAdjust="spacingAndGlyphs">6</tspan></text>
<text class="k" font-size="15.22"><tspan x="556.24" y="1791.6" textLength="6.8" lengthAdjust="spacingAndGlyphs">8</tspan></text>
<text class="k" font-size="15.22"><tspan x="683.6" y="1791.6" textLength="13.6" lengthAdjust="spacingAndGlyphs">10</tspan></text>
<text class="t" font-size="19.23"><tspan x="367.43" y="1811.5" textLength="33.73" lengthAdjust="spacingAndGlyphs">−log</tspan><tspan x="401.16" y="1809.74" font-size="19.99" textLength="11.45" lengthAdjust="spacingAndGlyphs">₁₀</tspan><tspan x="412.6" y="1811.5" textLength="63.97" lengthAdjust="spacingAndGlyphs">(p-value)</tspan></text>
<text class="t" font-size="21.03"><tspan x="319.42" y="1275.8" textLength="102.29" lengthAdjust="spacingAndGlyphs">WikiPathways</tspan> <tspan x="426.46" y="1275.8" textLength="38.05" lengthAdjust="spacingAndGlyphs">2024</tspan> <tspan x="469.26" y="1275.8" textLength="53.92" lengthAdjust="spacingAndGlyphs">Human</tspan></text>
<text class="t" font-size="20.03"><tspan x="40.1" y="1305.4" textLength="66.91" lengthAdjust="spacingAndGlyphs">Hepatitis</tspan> <tspan x="111.76" y="1305.4" textLength="10.44" lengthAdjust="spacingAndGlyphs">C</tspan> <tspan x="126.95" y="1305.4" textLength="29.19" lengthAdjust="spacingAndGlyphs">And</tspan> <tspan x="160.9" y="1305.4" textLength="108.76" lengthAdjust="spacingAndGlyphs">Hepatocellular</tspan> <tspan x="274.41" y="1305.4" textLength="80.14" lengthAdjust="spacingAndGlyphs">Carcinoma</tspan> <tspan x="359.3" y="1305.4" textLength="61.84" lengthAdjust="spacingAndGlyphs">WP3646</tspan>  <tspan x="430.65" y="1305.4" textLength="74.38" lengthAdjust="spacingAndGlyphs">*5.94e-12</tspan></text>
<text class="t" font-size="20.03"><tspan x="40.1" y="1354.82" textLength="72.32" lengthAdjust="spacingAndGlyphs">Androgen</tspan> <tspan x="117.17" y="1354.82" textLength="66.98" lengthAdjust="spacingAndGlyphs">Receptor</tspan> <tspan x="188.9" y="1354.82" textLength="62.42" lengthAdjust="spacingAndGlyphs">Network</tspan> <tspan x="256.07" y="1354.82" textLength="13.88" lengthAdjust="spacingAndGlyphs">In</tspan> <tspan x="274.71" y="1354.82" textLength="61.59" lengthAdjust="spacingAndGlyphs">Prostate</tspan> <tspan x="341.05" y="1354.82" textLength="52.64" lengthAdjust="spacingAndGlyphs">Cancer</tspan> <tspan x="398.44" y="1354.82" textLength="61.84" lengthAdjust="spacingAndGlyphs">WP2263</tspan>  <tspan x="469.79" y="1354.82" textLength="74.38" lengthAdjust="spacingAndGlyphs">*8.59e-12</tspan></text>
<text class="t" font-size="20.03"><tspan x="40.1" y="1404.24" textLength="52.41" lengthAdjust="spacingAndGlyphs">HDAC6</tspan> <tspan x="97.26" y="1404.24" textLength="88.9" lengthAdjust="spacingAndGlyphs">Interactions</tspan> <tspan x="190.91" y="1404.24" textLength="13.88" lengthAdjust="spacingAndGlyphs">In</tspan> <tspan x="209.54" y="1404.24" textLength="27.81" lengthAdjust="spacingAndGlyphs">The</tspan> <tspan x="242.1" y="1404.24" textLength="54.44" lengthAdjust="spacingAndGlyphs">Central</tspan> <tspan x="301.29" y="1404.24" textLength="61.79" lengthAdjust="spacingAndGlyphs">Nervous</tspan> <tspan x="367.83" y="1404.24" textLength="55.75" lengthAdjust="spacingAndGlyphs">System</tspan> <tspan x="428.33" y="1404.24" textLength="61.84" lengthAdjust="spacingAndGlyphs">WP5426</tspan>  <tspan x="499.68" y="1404.24" textLength="74.38" lengthAdjust="spacingAndGlyphs">*1.04e-11</tspan></text>
<text class="t" font-size="20.03"><tspan x="40.1" y="1453.66" textLength="52.64" lengthAdjust="spacingAndGlyphs">Cancer</tspan> <tspan x="97.49" y="1453.66" textLength="70.87" lengthAdjust="spacingAndGlyphs">Pathways</tspan> <tspan x="173.11" y="1453.66" textLength="61.84" lengthAdjust="spacingAndGlyphs">WP5434</tspan>  <tspan x="244.46" y="1453.66" textLength="74.38" lengthAdjust="spacingAndGlyphs">*1.48e-11</tspan></text>
<text class="t" font-size="20.03"><tspan x="40.1" y="1503.08" textLength="103.4" lengthAdjust="spacingAndGlyphs">Chromosomal</tspan> <tspan x="148.25" y="1503.08" textLength="29.19" lengthAdjust="spacingAndGlyphs">And</tspan> <tspan x="182.2" y="1503.08" textLength="99.77" lengthAdjust="spacingAndGlyphs">Microsatellite</tspan> <tspan x="286.72" y="1503.08" textLength="73.36" lengthAdjust="spacingAndGlyphs">Instability</tspan> <tspan x="364.83" y="1503.08" textLength="13.88" lengthAdjust="spacingAndGlyphs">In</tspan> <tspan x="383.46" y="1503.08" textLength="75.3" lengthAdjust="spacingAndGlyphs">Colorectal</tspan> <tspan x="463.51" y="1503.08" textLength="52.64" lengthAdjust="spacingAndGlyphs">Cancer</tspan> <tspan x="520.9" y="1503.08" textLength="61.84" lengthAdjust="spacingAndGlyphs">WP4216</tspan>  <tspan x="592.25" y="1503.08" textLength="74.38" lengthAdjust="spacingAndGlyphs">*7.13e-11</tspan></text>
<text class="t" font-size="20.03"><tspan x="40.1" y="1552.5" textLength="69.71" lengthAdjust="spacingAndGlyphs">Selenium</tspan> <tspan x="114.56" y="1552.5" textLength="99.88" lengthAdjust="spacingAndGlyphs">Micronutrient</tspan> <tspan x="219.19" y="1552.5" textLength="62.42" lengthAdjust="spacingAndGlyphs">Network</tspan> <tspan x="286.37" y="1552.5" textLength="42.82" lengthAdjust="spacingAndGlyphs">WP15</tspan>  <tspan x="338.69" y="1552.5" textLength="74.38" lengthAdjust="spacingAndGlyphs">*1.95e-10</tspan></text>
<text class="t" font-size="20.03"><tspan x="40.1" y="1601.92" textLength="73.09" lengthAdjust="spacingAndGlyphs">Apoptosis</tspan> <tspan x="117.95" y="1601.92" textLength="82.96" lengthAdjust="spacingAndGlyphs">Modulation</tspan> <tspan x="205.66" y="1601.92" textLength="29.19" lengthAdjust="spacingAndGlyphs">And</tspan> <tspan x="239.6" y="1601.92" textLength="69.04" lengthAdjust="spacingAndGlyphs">Signaling</tspan> <tspan x="313.4" y="1601.92" textLength="61.84" lengthAdjust="spacingAndGlyphs">WP1772</tspan>  <tspan x="384.75" y="1601.92" textLength="74.38" lengthAdjust="spacingAndGlyphs">*2.41e-10</tspan></text>
<text class="t" font-size="20.03"><tspan x="40.1" y="1651.34" textLength="106.56" lengthAdjust="spacingAndGlyphs">Photodynamic</tspan> <tspan x="151.41" y="1651.34" textLength="61.45" lengthAdjust="spacingAndGlyphs">Therapy</tspan> <tspan x="217.61" y="1651.34" textLength="59.76" lengthAdjust="spacingAndGlyphs">Induced</tspan> <tspan x="282.12" y="1651.34" textLength="19.24" lengthAdjust="spacingAndGlyphs">AP</tspan> <tspan x="306.11" y="1651.34" textLength="9.51" lengthAdjust="spacingAndGlyphs">1</tspan> <tspan x="320.38" y="1651.34" textLength="60.27" lengthAdjust="spacingAndGlyphs">Survival</tspan> <tspan x="385.4" y="1651.34" textLength="69.04" lengthAdjust="spacingAndGlyphs">Signaling</tspan> <tspan x="459.2" y="1651.34" textLength="61.84" lengthAdjust="spacingAndGlyphs">WP3611</tspan>  <tspan x="530.55" y="1651.34" textLength="64.87" lengthAdjust="spacingAndGlyphs">*1.2e-09</tspan></text>
<text class="t" font-size="20.03"><tspan x="40.1" y="1700.76" textLength="60.19" lengthAdjust="spacingAndGlyphs">Measles</tspan> <tspan x="105.04" y="1700.76" textLength="37.46" lengthAdjust="spacingAndGlyphs">Virus</tspan> <tspan x="147.25" y="1700.76" textLength="65.2" lengthAdjust="spacingAndGlyphs">Infection</tspan> <tspan x="217.21" y="1700.76" textLength="61.84" lengthAdjust="spacingAndGlyphs">WP4630</tspan>  <tspan x="288.56" y="1700.76" textLength="74.38" lengthAdjust="spacingAndGlyphs">*3.17e-09</tspan></text>
<text class="t" font-size="20.03"><tspan x="40.1" y="1750.18" textLength="31" lengthAdjust="spacingAndGlyphs">AGE</tspan> <tspan x="75.85" y="1750.18" textLength="40.78" lengthAdjust="spacingAndGlyphs">RAGE</tspan> <tspan x="121.38" y="1750.18" textLength="63.08" lengthAdjust="spacingAndGlyphs">Pathway</tspan> <tspan x="189.21" y="1750.18" textLength="61.84" lengthAdjust="spacingAndGlyphs">WP2324</tspan>  <tspan x="260.56" y="1750.18" textLength="74.38" lengthAdjust="spacingAndGlyphs">*5.00e-09</tspan></text>
<text class="L" x="12.7" y="1252.5">E</text>
</g>
<g id="panel-f">
<rect class="bar" x="827.8" y="1293.8" width="760.2" height="38.2"/>
<rect class="bar" x="827.8" y="1342.46" width="726.84" height="38.2"/>
<rect class="bar" x="827.8" y="1391.12" width="593.92" height="38.2"/>
<rect class="bar" x="827.8" y="1439.78" width="516.47" height="38.2"/>
<rect class="bar" x="827.8" y="1488.44" width="481.87" height="38.2"/>
<rect class="bar" x="827.8" y="1537.1" width="391.84" height="38.2"/>
<rect class="bar" x="827.8" y="1585.76" width="388.76" height="38.2"/>
<rect class="bar" x="827.8" y="1634.42" width="388.35" height="38.2"/>
<rect class="bar" x="827.8" y="1683.08" width="372.06" height="38.2"/>
<rect class="bar" x="827.8" y="1731.74" width="361.9" height="38.2"/>
<path class="sp" stroke="#d4d4d4" d="M827.8 1288.2H1626.4"/>
<path class="sp" stroke="#dedede" d="M1626.4 1288.2V1775.3"/>
<path class="sp" stroke="#8a8a8a" d="M827.8 1288.2V1775.3"/>
<path class="sp" stroke="#5a5a5a" stroke-width="1.2" d="M827.3 1775.3H1626.4"/>
<path class="sp" stroke="#5a5a5a" d="M827.8 1775.3v2.6M908.14 1775.3v2.6M988.48 1775.3v2.6M1068.82 1775.3v2.6M1149.16 1775.3v2.6M1229.5 1775.3v2.6M1309.84 1775.3v2.6M1390.18 1775.3v2.6M1470.52 1775.3v2.6M1550.86 1775.3v2.6"/>
<text class="k" font-size="15.78"><tspan x="824.28" y="1792.3" textLength="7.04" lengthAdjust="spacingAndGlyphs">0</tspan></text>
<text class="k" font-size="15.78"><tspan x="904.62" y="1792.3" textLength="7.04" lengthAdjust="spacingAndGlyphs">2</tspan></text>
<text class="k" font-size="15.78"><tspan x="984.96" y="1792.3" textLength="7.04" lengthAdjust="spacingAndGlyphs">4</tspan></text>
<text class="k" font-size="15.78"><tspan x="1065.3" y="1792.3" textLength="7.04" lengthAdjust="spacingAndGlyphs">6</tspan></text>
<text class="k" font-size="15.78"><tspan x="1145.64" y="1792.3" textLength="7.04" lengthAdjust="spacingAndGlyphs">8</tspan></text>
<text class="k" font-size="15.78"><tspan x="1222.46" y="1792.3" textLength="14.08" lengthAdjust="spacingAndGlyphs">10</tspan></text>
<text class="k" font-size="15.78"><tspan x="1302.8" y="1792.3" textLength="14.08" lengthAdjust="spacingAndGlyphs">12</tspan></text>
<text class="k" font-size="15.78"><tspan x="1383.14" y="1792.3" textLength="14.08" lengthAdjust="spacingAndGlyphs">14</tspan></text>
<text class="k" font-size="15.78"><tspan x="1463.48" y="1792.3" textLength="14.08" lengthAdjust="spacingAndGlyphs">16</tspan></text>
<text class="k" font-size="15.78"><tspan x="1543.82" y="1792.3" textLength="14.08" lengthAdjust="spacingAndGlyphs">18</tspan></text>
<text class="t" font-size="19.94"><tspan x="1170.59" y="1812.2" textLength="34.92" lengthAdjust="spacingAndGlyphs">−log</tspan><tspan x="1205.52" y="1810.38" font-size="20.73" textLength="11.85" lengthAdjust="spacingAndGlyphs">₁₀</tspan><tspan x="1217.37" y="1812.2" textLength="66.24" lengthAdjust="spacingAndGlyphs">(p-value)</tspan></text>
<text class="t" font-size="21.18"><tspan x="1126.23" y="1284.4" textLength="77.73" lengthAdjust="spacingAndGlyphs">Reactome</tspan> <tspan x="1208.88" y="1284.4" textLength="73.38" lengthAdjust="spacingAndGlyphs">Pathways</tspan> <tspan x="1287.18" y="1284.4" textLength="39.4" lengthAdjust="spacingAndGlyphs">2024</tspan></text>
<text class="t" font-size="20.77"><tspan x="831.1" y="1313.5" textLength="58.9" lengthAdjust="spacingAndGlyphs">Cellular</tspan> <tspan x="894.92" y="1313.5" textLength="82.41" lengthAdjust="spacingAndGlyphs">Responses</tspan> <tspan x="982.25" y="1313.5" textLength="15.54" lengthAdjust="spacingAndGlyphs">to</tspan> <tspan x="1002.71" y="1313.5" textLength="47.57" lengthAdjust="spacingAndGlyphs">Stress</tspan>  <tspan x="1060.13" y="1313.5" textLength="77.01" lengthAdjust="spacingAndGlyphs">*1.19e-19</tspan></text>
<text class="t" font-size="20.77"><tspan x="831.1" y="1362.16" textLength="58.9" lengthAdjust="spacingAndGlyphs">Cellular</tspan> <tspan x="894.92" y="1362.16" textLength="82.41" lengthAdjust="spacingAndGlyphs">Responses</tspan> <tspan x="982.25" y="1362.16" textLength="15.54" lengthAdjust="spacingAndGlyphs">to</tspan> <tspan x="1002.71" y="1362.16" textLength="53.69" lengthAdjust="spacingAndGlyphs">Stimuli</tspan>  <tspan x="1066.24" y="1362.16" textLength="77.01" lengthAdjust="spacingAndGlyphs">*8.05e-19</tspan></text>
<text class="t" font-size="20.77"><tspan x="831.1" y="1410.82" textLength="71.49" lengthAdjust="spacingAndGlyphs">Signaling</tspan> <tspan x="907.51" y="1410.82" textLength="18.99" lengthAdjust="spacingAndGlyphs">by</tspan> <tspan x="931.42" y="1410.82" textLength="91.11" lengthAdjust="spacingAndGlyphs">Interleukins</tspan>  <tspan x="1032.37" y="1410.82" textLength="77.01" lengthAdjust="spacingAndGlyphs">*1.64e-15</tspan></text>
<text class="t" font-size="20.77"><tspan x="831.1" y="1459.48" textLength="58.9" lengthAdjust="spacingAndGlyphs">Cellular</tspan> <tspan x="894.92" y="1459.48" textLength="74.35" lengthAdjust="spacingAndGlyphs">Response</tspan> <tspan x="974.18" y="1459.48" textLength="15.54" lengthAdjust="spacingAndGlyphs">to</tspan> <tspan x="994.65" y="1459.48" textLength="71.82" lengthAdjust="spacingAndGlyphs">Chemical</tspan> <tspan x="1071.39" y="1459.48" textLength="47.57" lengthAdjust="spacingAndGlyphs">Stress</tspan>  <tspan x="1128.8" y="1459.48" textLength="77.01" lengthAdjust="spacingAndGlyphs">*1.39e-13</tspan></text>
<text class="t" font-size="20.77"><tspan x="831.1" y="1508.14" textLength="68.11" lengthAdjust="spacingAndGlyphs">Cytokine</tspan> <tspan x="904.13" y="1508.14" textLength="71.49" lengthAdjust="spacingAndGlyphs">Signaling</tspan> <tspan x="980.54" y="1508.14" textLength="14.11" lengthAdjust="spacingAndGlyphs">in</tspan> <tspan x="999.57" y="1508.14" textLength="63.87" lengthAdjust="spacingAndGlyphs">Immune</tspan> <tspan x="1068.37" y="1508.14" textLength="57.73" lengthAdjust="spacingAndGlyphs">System</tspan>  <tspan x="1135.93" y="1508.14" textLength="77.01" lengthAdjust="spacingAndGlyphs">*1.01e-12</tspan></text>
<text class="t" font-size="20.77"><tspan x="831.1" y="1556.8" textLength="58.9" lengthAdjust="spacingAndGlyphs">Cellular</tspan> <tspan x="894.92" y="1556.8" textLength="92.63" lengthAdjust="spacingAndGlyphs">Senescence</tspan>  <tspan x="997.39" y="1556.8" textLength="77.01" lengthAdjust="spacingAndGlyphs">*1.76e-10</tspan></text>
<text class="t" font-size="20.77"><tspan x="831.1" y="1605.46" textLength="59.58" lengthAdjust="spacingAndGlyphs">Nuclear</tspan> <tspan x="895.6" y="1605.46" textLength="52.41" lengthAdjust="spacingAndGlyphs">Events</tspan> <tspan x="952.93" y="1605.46" textLength="71.91" lengthAdjust="spacingAndGlyphs">Mediated</tspan> <tspan x="1029.76" y="1605.46" textLength="18.99" lengthAdjust="spacingAndGlyphs">by</tspan> <tspan x="1053.67" y="1605.46" textLength="58.59" lengthAdjust="spacingAndGlyphs">NFE2L2</tspan>  <tspan x="1122.1" y="1605.46" textLength="67.17" lengthAdjust="spacingAndGlyphs">*2.1e-10</tspan></text>
<text class="t" font-size="20.77"><tspan x="831.1" y="1654.12" textLength="107.37" lengthAdjust="spacingAndGlyphs">Detoxification</tspan> <tspan x="943.39" y="1654.12" textLength="14.92" lengthAdjust="spacingAndGlyphs">of</tspan> <tspan x="963.23" y="1654.12" textLength="66.64" lengthAdjust="spacingAndGlyphs">Reactive</tspan> <tspan x="1034.79" y="1654.12" textLength="59.67" lengthAdjust="spacingAndGlyphs">Oxygen</tspan> <tspan x="1099.38" y="1654.12" textLength="59.58" lengthAdjust="spacingAndGlyphs">Species</tspan>  <tspan x="1168.8" y="1654.12" textLength="77.01" lengthAdjust="spacingAndGlyphs">*2.15e-10</tspan></text>
<text class="t" font-size="20.77"><tspan x="831.1" y="1702.78" textLength="63.87" lengthAdjust="spacingAndGlyphs">Immune</tspan> <tspan x="899.89" y="1702.78" textLength="57.73" lengthAdjust="spacingAndGlyphs">System</tspan>  <tspan x="967.46" y="1702.78" textLength="77.01" lengthAdjust="spacingAndGlyphs">*5.47e-10</tspan></text>
<text class="t" font-size="20.77"><tspan x="831.1" y="1751.44" textLength="98.48" lengthAdjust="spacingAndGlyphs">Interleukin-4</tspan> <tspan x="934.5" y="1751.44" textLength="29.12" lengthAdjust="spacingAndGlyphs">and</tspan> <tspan x="968.55" y="1751.44" textLength="108.33" lengthAdjust="spacingAndGlyphs">Interleukin-13</tspan> <tspan x="1081.8" y="1751.44" textLength="71.49" lengthAdjust="spacingAndGlyphs">Signaling</tspan>  <tspan x="1163.13" y="1751.44" textLength="77.01" lengthAdjust="spacingAndGlyphs">*9.79e-10</tspan></text>
<text class="L" x="842.3" y="1252.5">F</text>
</g>
</svg>
</body>
</html>
